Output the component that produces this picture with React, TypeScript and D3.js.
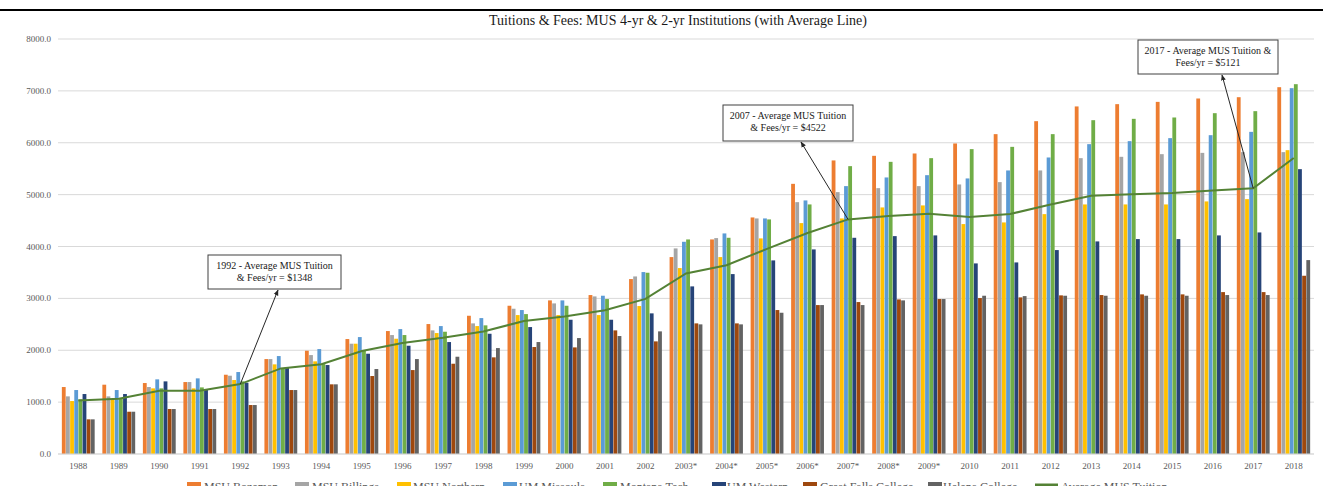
import React from "react";
import * as d3 from "d3";

const width = 1323;
const height = 486;
const margin = { left: 58, right: 9, top: 39, bottom: 32 };

const years = [
  "1988", "1989", "1990", "1991", "1992", "1993", "1994", "1995", "1996", "1997",
  "1998", "1999", "2000", "2001", "2002", "2003*", "2004*", "2005*", "2006*", "2007*",
  "2008*", "2009*", "2010", "2011", "2012", "2013", "2014", "2015", "2016", "2017", "2018",
];

const msuBozeman = [1291, 1336, 1368, 1387, 1528, 1830, 1991, 2216, 2370, 2505, 2665, 2858, 2961, 3064, 3372, 3796, 4136, 4560, 5208, 5659, 5748, 5793, 5986, 6166, 6416, 6700, 6744, 6788, 6853, 6878, 7071];
const msuBillings = [1111, 1111, 1291, 1387, 1509, 1830, 1907, 2126, 2293, 2383, 2518, 2800, 2903, 3038, 3423, 3963, 4162, 4541, 4855, 5048, 5125, 5164, 5196, 5241, 5466, 5703, 5729, 5780, 5805, 5819, 5819];
const msuNorthern = [1021, 1053, 1265, 1265, 1426, 1728, 1786, 2126, 2222, 2331, 2466, 2678, 2678, 2678, 2852, 3584, 3796, 4156, 4451, 4541, 4753, 4792, 4432, 4464, 4624, 4811, 4811, 4811, 4869, 4913, 5857];
const umMissoula = [1233, 1233, 1439, 1458, 1580, 1888, 2023, 2254, 2408, 2466, 2620, 2775, 2961, 3051, 3507, 4091, 4252, 4541, 4888, 5164, 5331, 5375, 5312, 5466, 5716, 5973, 6031, 6089, 6146, 6210, 7052];
const montanaTech = [1053, 1072, 1265, 1284, 1400, 1657, 1734, 1997, 2293, 2357, 2480, 2697, 2858, 2987, 3494, 4136, 4168, 4522, 4811, 5549, 5632, 5703, 5877, 5921, 6166, 6435, 6461, 6487, 6570, 6609, 7129];
const umWestern = [1156, 1156, 1400, 1252, 1374, 1657, 1715, 1933, 2087, 2158, 2318, 2447, 2588, 2588, 2711, 3231, 3468, 3732, 3944, 4168, 4200, 4214, 3674, 3693, 3931, 4098, 4143, 4143, 4214, 4271, 5491];
const greatFalls = [668, 815, 867, 867, 944, 1233, 1343, 1503, 1618, 1740, 1863, 2062, 2055, 2383, 2171, 2518, 2518, 2775, 2871, 2929, 2980, 2987, 3006, 3019, 3058, 3064, 3077, 3077, 3121, 3121, 3436];
const helena = [668, 815, 867, 867, 944, 1233, 1343, 1638, 1830, 1875, 2042, 2158, 2235, 2274, 2364, 2499, 2499, 2723, 2871, 2871, 2961, 2987, 3051, 3044, 3051, 3051, 3051, 3051, 3064, 3064, 3738];
const average = [1030, 1066, 1220, 1221, 1348, 1650, 1730, 1985, 2140, 2240, 2360, 2565, 2650, 2770, 2990, 3480, 3640, 3955, 4260, 4522, 4590, 4630, 4570, 4627, 4810, 4978, 5006, 5030, 5080, 5121, 5705];

const yTicks = [0, 1000, 2000, 3000, 4000, 5000, 6000, 7000, 8000];

const series = [
  { name: "MSU Bozeman", color: "#ED7D31", values: msuBozeman },
  { name: "MSU Billings", color: "#A5A5A5", values: msuBillings },
  { name: "MSU Northern", color: "#FFC000", values: msuNorthern },
  { name: "UM Missoula", color: "#5B9BD5", values: umMissoula },
  { name: "Montana Tech", color: "#70AD47", values: montanaTech },
  { name: "UM Western", color: "#264478", values: umWestern },
  { name: "Great Falls College", color: "#9E480E", values: greatFalls },
  { name: "Helena College", color: "#636363", values: helena },
];
const lineColor = "#548235";

const x = d3.scaleBand()
  .domain(years)
  .range([margin.left, width - margin.right])
  .paddingInner(0.19)
  .paddingOuter(0.095);

const xs = d3.scaleBand()
  .domain(series.map(s => s.name))
  .range([0, x.bandwidth()])
  .paddingInner(0.08);

const y = d3.scaleLinear()
  .domain([0, 8000])
  .range([height - margin.bottom, margin.top]);

const avgLine = d3.line()
  .x((d, i) => x(years[i]) + x.bandwidth() / 2)
  .y(d => y(d));

const serif = "'Liberation Serif', 'Times New Roman', serif";

// callout boxes pointing at the average line
const Callout = ({ year, bx, by, bw, bh, lines, tipX, tipY }) => {
  const i = years.indexOf(year);
  const px = x(year) + x.bandwidth() / 2;
  const py = y(average[i]);
  return (
    <g>
      <rect x={bx} y={by} width={bw} height={bh} fill="white" stroke="#404040" strokeWidth={1} />
      {lines.map((t, k) => (
        <text key={k} x={bx + bw / 2} y={by + 14 + k * 12} textAnchor="middle"
          fontFamily={serif} fontSize={10} fill="#1a1a1a">{t}</text>
      ))}
      <line x1={px} y1={py} x2={tipX} y2={tipY} stroke="#262626" strokeWidth={1} markerEnd="url(#arrow)" />
    </g>
  );
};

const legendItems = [
  { x: 187, tx: 204 }, { x: 295, tx: 312 }, { x: 397, tx: 413 }, { x: 503, tx: 519 },
  { x: 603, tx: 620 }, { x: 712, tx: 727 }, { x: 803, tx: 820 }, { x: 928, tx: 943 },
];

const App = () => (
  <div style={{ position: "absolute", left: 0, top: 0 }}>
    <svg width={width} height={height} style={{ display: "block", background: "white" }}>
      <defs>
        <marker id="arrow" viewBox="0 0 10 10" refX="9" refY="5" markerWidth="6" markerHeight="6" orient="auto">
          <path d="M0,1 L10,5 L0,9 z" fill="#262626" />
        </marker>
      </defs>
      <rect x={0} y={9} width={width} height={2} fill="#000" />

      <text x={678} y={25} textAnchor="middle" fontFamily={serif} fontSize={14} fill="#1a1a1a">
        Tuitions &amp; Fees: MUS 4-yr &amp; 2-yr Institutions (with Average Line)
      </text>

      {yTicks.map(t => (
        <g key={t}>
          <line x1={margin.left} x2={width - margin.right} y1={y(t)} y2={y(t)} stroke="#D9D9D9" strokeWidth={1} />
          <text x={margin.left - 7} y={y(t) + 3} textAnchor="end" fontFamily={serif} fontSize={9} fill="#595959">
            {t.toFixed(1)}
          </text>
        </g>
      ))}

      {years.map((yr, i) => (
        <g key={yr} transform={`translate(${x(yr)},0)`}>
          {series.map(s => (
            <rect key={s.name}
              x={xs(s.name)}
              y={y(s.values[i])}
              width={xs.bandwidth()}
              height={y(0) - y(s.values[i])}
              fill={s.color} />
          ))}
          <text x={x.bandwidth() / 2} y={469} textAnchor="middle" fontFamily={serif} fontSize={9} fill="#595959">{yr}</text>
        </g>
      ))}

      <line x1={margin.left} x2={width - margin.right} y1={y(0)} y2={y(0)} stroke="#D9D9D9" />

      <path d={avgLine(average)} fill="none" stroke={lineColor} strokeWidth={2} />

      <Callout year="1992" bx={208} by={255} bw={133} bh={34}
        lines={["1992 - Average MUS Tuition", "& Fees/yr = $1348"]} tipX={278} tipY={290} />
      <Callout year="2007*" bx={723} by={105} bw={130} bh={36}
        lines={["2007 - Average MUS Tuition", "& Fees/yr = $4522"]} tipX={801} tipY={142} />
      <Callout year="2017" bx={1138} by={40} bw={140} bh={34}
        lines={["2017 - Average MUS Tuition &", "Fees/yr = $5121"]} tipX={1222} tipY={75} />

      {series.map((s, k) => (
        <g key={s.name}>
          <rect x={legendItems[k].x} y={482} width={14} height={8} fill={s.color} />
          <text x={legendItems[k].tx} y={491} fontFamily={serif} fontSize={12} fill="#595959">{s.name}</text>
        </g>
      ))}
      <line x1={1035} x2={1058} y1={485} y2={485} stroke={lineColor} strokeWidth={3} />
      <text x={1061} y={491} fontFamily={serif} fontSize={12} fill="#595959">Average MUS Tuition</text>
    </svg>
  </div>
);

export default App;
